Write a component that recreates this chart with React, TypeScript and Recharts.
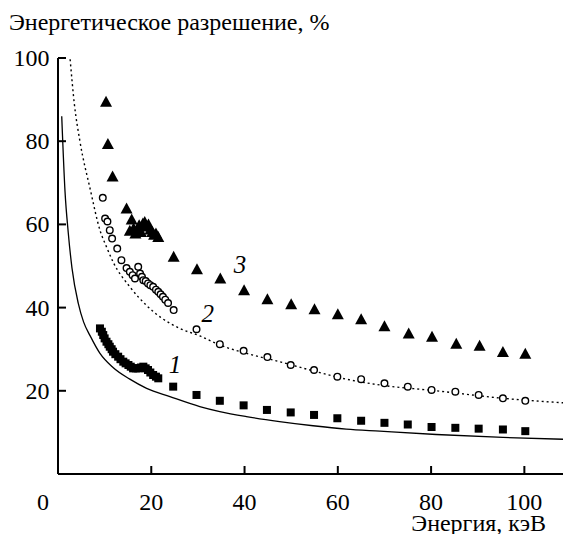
import React from "react";
import { ComposedChart, Line, Scatter, XAxis, YAxis } from "recharts";

// axis ticks
const xTicks = [0, 20, 40, 60, 80, 100];
const yTicks = [20, 40, 60, 80, 100];

// series 1 (squares)
const sqX = [9.0, 9.4, 9.7, 10.0, 10.4, 10.8, 11.1, 11.5, 11.8, 12.3, 12.9, 13.4, 14.0, 14.5, 15.1, 15.6, 16.1, 16.7, 17.2, 17.8, 18.3, 18.8, 19.3, 19.8, 20.4, 21.0, 21.5, 24.7, 29.7, 34.7, 39.8, 44.8, 49.9, 54.9, 59.9, 65, 70, 75, 80.1, 85.2, 90.2, 95.4, 100.2];
const sqY = [35.0, 34.2, 33.4, 32.6, 31.8, 31.2, 30.6, 30.0, 29.4, 28.8, 28.2, 27.6, 27.0, 26.6, 26.2, 25.8, 25.4, 25.4, 25.4, 25.6, 25.8, 25.4, 25.0, 24.4, 23.8, 23.4, 23.0, 21.0, 19.0, 17.6, 16.5, 15.4, 14.8, 14.2, 13.4, 12.8, 12.3, 11.9, 11.3, 11.1, 10.9, 10.7, 10.3];

// series 2 (open circles)
const ciX = [9.6, 10.1, 10.6, 11.1, 11.6, 12.7, 13.6, 14.7, 15.4, 16.0, 16.5, 17.2, 17.6, 18.0, 18.3, 18.8, 19.3, 19.8, 20.4, 21.0, 21.5, 22.0, 22.5, 23.0, 23.6, 24.8, 29.7, 34.7, 39.8, 44.9, 49.9, 54.9, 59.9, 65, 70, 75, 80.1, 85.2, 90.2, 95.4, 100.2];
const ciY = [66.4, 61.4, 60.7, 58.6, 56.6, 54.2, 51.4, 49.5, 48.6, 47.8, 47.0, 49.8, 48.2, 47.4, 46.6, 46.4, 45.8, 45.4, 45.0, 44.3, 43.8, 43.2, 42.6, 41.9, 41.1, 39.4, 34.8, 31.2, 29.6, 28.1, 26.2, 25.0, 23.4, 22.8, 21.8, 21.0, 20.2, 19.8, 19.0, 18.2, 17.6];

// series 3 (triangles)
const trX = [10.3, 10.7, 11.7, 14.7, 15.4, 15.8, 16.2, 16.6, 17.0, 17.4, 17.8, 18.2, 18.6, 19.0, 19.4, 19.8, 20.2, 20.6, 21.0, 21.5, 24.8, 29.8, 34.8, 39.9, 44.9, 50, 55, 60, 65, 70, 75.2, 80.2, 85.4, 90.4, 95.4, 100.2];
const trY = [89.5, 79.3, 71.5, 63.8, 58.5, 61.2, 59.0, 57.8, 58.8, 59.8, 58.2, 60.2, 60.6, 59.5, 60.0, 58.8, 58.2, 57.5, 57.8, 57.0, 52.2, 49.2, 47.0, 44.2, 42.0, 40.8, 39.6, 38.4, 37.2, 35.5, 33.8, 33.0, 31.3, 30.8, 29.3, 28.9];

// solid curve
const solidX = [0.8, 1.5, 2.2, 3.0, 4.35, 5.5, 6.9, 9, 11.8, 15.4, 19, 24, 30.4, 34.7, 40.4, 47.5, 54.7, 61.8, 69, 81.1, 95.4, 110];
const solidY = [86, 68, 58, 49.5, 41, 36.5, 33.2, 29, 25.6, 22.8, 20.6, 18.6, 16.2, 15.0, 13.8, 12.6, 11.6, 10.8, 10.3, 9.5, 8.8, 8.3];

// dotted curve
const dotX = [2.6, 3.5, 4.7, 6.9, 9, 10.4, 11.8, 15.4, 19, 22.2, 26.1, 30.4, 34.7, 40.4, 47.5, 54.7, 61.8, 69, 81.1, 95.4, 110];
const dotY = [99.7, 89, 80, 68.5, 58.6, 54.6, 51, 45, 40.5, 37.5, 35, 33.2, 31.0, 29.0, 27.0, 24.8, 22.8, 21.4, 20.0, 18.2, 17.0];

// curve numbers
const noteX = [25.1, 32.1, 39.0];
const noteY = [26.3, 38.7, 50.3];
const noteText = ["1", "2", "3"];

const pts = (xs: number[], ys: number[]) => xs.map((x, i) => ({ x, y: ys[i] }));
const notes = noteX.map((x, i) => ({ x, y: noteY[i], t: noteText[i] }));

const FONT =
	"'Liberation Serif', 'Tinos', 'Times New Roman', 'Nimbus Roman', 'Nimbus Roman No9 L', 'FreeSerif', 'Noto Serif', 'DejaVu Serif', Times, serif";

const XTick = (props: any) => {
	const { x, y, payload } = props;
	const v = payload.value;
	return (
		<g>
			{v !== 0 && <line x1={x} y1={y} x2={x} y2={y - 8} stroke="#000" strokeWidth={2} />}
			<text x={v === 0 ? x - 15 : x} y={y + 36} textAnchor="middle" fontSize={24} style={{ fontFamily: FONT }} fill="#000">
				{v}
			</text>
		</g>
	);
};

const YTick = (props: any) => {
	const { x, y, payload } = props;
	return (
		<g>
			<line x1={x} y1={y} x2={x + 8} y2={y} stroke="#000" strokeWidth={2} />
			<text x={x - 8.5} y={y + 8} textAnchor="end" fontSize={24} style={{ fontFamily: FONT }} fill="#000">
				{payload.value}
			</text>
		</g>
	);
};

const Tri = ({ cx, cy }: any) => (
	<polygon points={`${cx},${cy - 6} ${cx + 6},${cy + 5} ${cx - 6},${cy + 5}`} fill="#000" />
);
const Circ = ({ cx, cy }: any) => <circle cx={cx} cy={cy} r={3.3} fill="#fff" stroke="#000" strokeWidth={1.4} />;
const Sq = ({ cx, cy }: any) => <rect x={cx - 4} y={cy - 4} width={8} height={8} fill="#000" />;
const Note = ({ cx, cy, payload }: any) => (
	<text x={cx} y={cy} textAnchor="middle" dominantBaseline="central" fontSize={25} fontStyle="italic" style={{ fontFamily: FONT }} fill="#000">
		{payload.t}
	</text>
);

export default function App() {
	return (
		<div style={{ position: "relative", width: 563, height: 526, fontFamily: FONT }}>
			<ComposedChart width={563} height={526} margin={{ top: 50, right: 0, bottom: 0, left: 0 }}>
				<XAxis
					type="number"
					dataKey="x"
					domain={[0, 110]}
					ticks={xTicks}
					height={60}
					tickSize={0}
					tickMargin={0}
					tickLine={false}
					tick={<XTick />}
					axisLine={{ stroke: "#000", strokeWidth: 2 }}
					allowDataOverflow
				/>
				<YAxis
					type="number"
					dataKey="y"
					domain={[0, 100]}
					ticks={yTicks}
					width={50}
					tickSize={0}
					tickMargin={0}
					tickLine={false}
					tick={<YTick />}
					axisLine={{ stroke: "#000", strokeWidth: 2 }}
					allowDataOverflow
				/>
				<Line data={pts(solidX, solidY)} dataKey="y" type="monotone" stroke="#000" strokeWidth={1.3} dot={false} isAnimationActive={false} />
				<Line data={pts(dotX, dotY)} dataKey="y" type="monotone" stroke="#000" strokeWidth={1.4} strokeDasharray="2 3" dot={false} isAnimationActive={false} />
				<Scatter data={pts(sqX, sqY)} shape={<Sq />} isAnimationActive={false} />
				<Scatter data={pts(ciX, ciY)} shape={<Circ />} isAnimationActive={false} />
				<Scatter data={pts(trX, trY)} shape={<Tri />} isAnimationActive={false} />
				<Scatter data={notes} shape={<Note />} isAnimationActive={false} />
			</ComposedChart>
			<div style={{ position: "absolute", left: 1, top: 2, fontSize: 24, lineHeight: "24px", whiteSpace: "nowrap" }}>
				Энергетическое разрешение, %
			</div>
			<div style={{ position: "absolute", left: 338, width: 200, top: 502.6, fontSize: 24, lineHeight: "24px", whiteSpace: "nowrap", textAlign: "right" }}>
				Энергия, кэВ
			</div>
		</div>
	);
}
